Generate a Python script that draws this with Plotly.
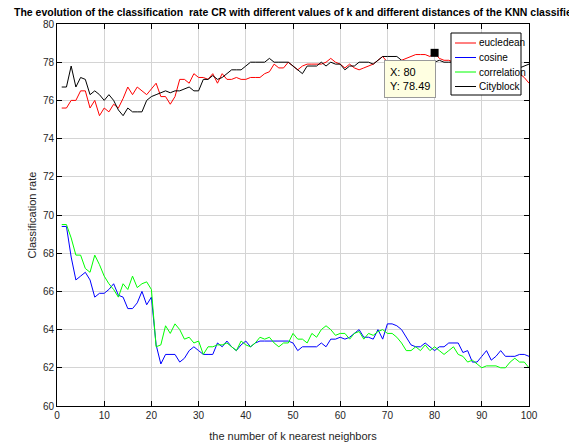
import plotly.graph_objects as go

k = list(range(1, 101))

eucledean = [75.6, 75.6, 76.0, 76.0, 76.5, 76.5, 75.6, 76.0, 75.2, 75.6,
             75.4, 75.8, 75.6, 76.1, 76.7, 76.3, 76.7, 76.5, 76.3, 76.6,
             76.9, 76.2, 76.2, 75.8, 76.2, 77.1, 77.1, 76.9, 77.4, 77.2,
             77.2, 77.1, 77.4, 76.9, 77.4, 77.1, 77.1, 77.2, 77.1, 77.1,
             77.2, 77.2, 77.2, 77.4, 77.5, 77.9, 77.7, 77.7, 78.0, 77.8,
             77.6, 77.8, 77.9, 77.9, 77.9, 77.9, 78.0, 78.2, 78.0, 77.9,
             77.7, 77.9, 77.7, 77.6, 77.7, 77.8, 77.9, 78.1, 78.3, 78.0,
             77.9, 78.0, 78.1, 78.2, 78.3, 78.4, 78.4, 78.4, 78.3, 78.49,
             78.2, 78.1, 78.1, 78.0, 78.1, 77.9, 78.0, 77.8, 77.9, 77.9,
             77.8, 77.7, 77.8, 77.6, 77.7, 77.5, 77.6, 77.4, 77.2, 76.9]

cosine = [69.4, 69.4, 67.8, 66.6, 66.8, 67.0, 66.6, 65.7, 65.9, 65.9,
          66.1, 66.4, 65.8, 65.7, 65.1, 65.1, 65.4, 66.0, 65.3, 65.7,
          63.2, 62.2, 62.7, 62.7, 62.7, 62.3, 62.5, 62.9, 63.1, 62.9,
          62.7, 62.7, 62.7, 63.3, 63.1, 63.4, 63.1, 62.9, 63.2, 63.4,
          63.1, 63.3, 63.4, 63.4, 63.4, 63.4, 63.4, 63.4, 63.4, 63.3,
          62.9, 63.1, 63.1, 63.1, 63.1, 63.3, 63.1, 63.5, 63.5, 63.6,
          63.5, 63.6, 63.8, 64.0, 63.6, 63.6, 63.5, 64.0, 63.5, 64.3,
          64.3, 64.2, 64.0, 63.6, 63.2, 63.1, 63.1, 63.3, 63.1, 62.9,
          63.1, 63.1, 63.3, 63.3, 63.3, 62.8, 62.9, 62.3, 62.3, 62.6,
          62.9, 62.4, 62.6, 62.9, 62.6, 62.6, 62.6, 62.7, 62.7, 62.6]

correlation = [69.5, 69.5, 68.8, 67.9, 67.9, 67.2, 67.0, 67.9, 67.4, 66.8,
               66.4, 66.1, 65.7, 66.4, 66.1, 66.8, 66.2, 66.4, 66.5, 66.1,
               63.1, 63.2, 64.2, 63.8, 64.3, 64.0, 63.5, 63.6, 63.3, 63.4,
               62.7, 63.1, 63.1, 63.2, 63.2, 63.3, 63.1, 62.9, 63.4, 63.2,
               63.1, 63.3, 63.6, 63.5, 63.6, 63.3, 63.1, 63.3, 63.3, 63.8,
               63.5, 63.5, 63.3, 63.8, 63.6, 64.0, 64.2, 64.0, 63.7, 63.8,
               63.8, 63.5, 63.8, 63.9, 63.5, 63.8, 63.7, 63.9, 64.0, 63.8,
               63.8, 63.6, 63.3, 62.9, 62.9, 63.1, 62.9, 63.2, 62.9, 63.1,
               62.9, 62.7, 62.9, 63.1, 62.7, 62.6, 62.3, 62.4, 62.2, 62.0,
               62.1, 62.1, 62.1, 62.0, 62.0, 62.3, 62.5, 62.3, 62.3, 62.0]

cityblock = [76.7, 76.7, 77.8, 76.7, 77.2, 77.1, 76.3, 76.5, 76.3, 76.0,
             76.3, 76.0, 75.5, 75.2, 75.6, 75.4, 75.4, 75.4, 76.0, 76.2,
             76.3, 76.4, 76.5, 76.4, 76.5, 76.5, 76.6, 76.7, 76.5, 76.5,
             77.1, 77.1, 77.3, 77.1, 77.2, 77.4, 77.6, 77.6, 77.6, 77.8,
             78.0, 78.0, 78.0, 78.0, 78.2, 78.0, 78.0, 78.0, 78.0, 77.8,
             77.6, 77.4, 77.8, 77.8, 77.8, 78.0, 77.8, 78.0, 77.9, 77.9,
             77.6, 77.8, 77.8, 78.0, 78.0, 78.0, 77.9, 78.1, 78.3, 78.3,
             78.3, 78.3, 78.1, 78.0, 78.0, 78.0, 78.0, 78.0, 78.0, 78.0,
             78.1, 78.0, 78.0, 78.0, 77.9, 78.0, 77.9, 77.9, 77.8, 77.9,
             77.8, 77.8, 77.9, 77.8, 77.7, 77.8, 77.8, 77.7, 77.8, 77.9]

series_names = ["eucledean", "cosine", "correlation", "Cityblock"]
series_values = [eucledean, cosine, correlation, cityblock]
series_colors = ["#ff0000", "#0000ff", "#00ff00", "#000000"]

x_ticks = list(range(0, 101, 10))
y_ticks = list(range(60, 81, 2))

tip_k = 80
tip_value = eucledean[k.index(tip_k)]

title_text = ("The evolution of the classification  rate CR with different values of k "
              "and different distances of the KNN classifier")

W, H = 569, 443
L, R, T, B = 57, 40, 24, 37
PW, PH = W - L - R, H - T - B


def px_x(px):
    return (px - L) / PW


def px_y(py):
    return 1 - (py - T) / PH


fig = go.Figure()
for name, vals, col in zip(series_names, series_values, series_colors):
    fig.add_trace(go.Scatter(x=k, y=vals, mode="lines", name=name,
                             line=dict(color=col, width=1)))

fig.add_trace(go.Scatter(x=[tip_k], y=[tip_value], mode="markers", showlegend=False,
                         marker=dict(symbol="square", size=8, color="black")))

# data tip
fig.add_annotation(x=tip_k, y=tip_value, xref="x", yref="y",
                   text=f"X: {tip_k}<br>Y: {tip_value:.2f}", showarrow=False,
                   xanchor="right", yanchor="top", xshift=1, yshift=-7,
                   align="left", bgcolor="#ffffe1", bordercolor="#9a9a9a",
                   borderwidth=1, borderpad=5,
                   font=dict(family="Liberation Sans, Arial", size=11, color="black"))

# title (left part visible, overflowing right edge as in the original)
fig.add_annotation(text=f"<b>{title_text}</b>", xref="paper", yref="paper",
                   x=px_x(12), y=px_y(12), xanchor="left", yanchor="middle",
                   showarrow=False,
                   font=dict(family="Liberation Sans, Arial", size=10.5, color="black"))

# legend box (MATLAB style)
lx0, ly0, lx1, ly1 = 451, 33, 521, 95
fig.add_shape(type="rect", xref="paper", yref="paper",
              x0=px_x(lx0), x1=px_x(lx1), y0=px_y(ly1), y1=px_y(ly0),
              line=dict(color="black", width=1), fillcolor="white", layer="above")
row_y = [43, 57.5, 72, 86.5]
for name, col, ry in zip(series_names, series_colors, row_y):
    fig.add_shape(type="line", xref="paper", yref="paper",
                  x0=px_x(455), x1=px_x(476), y0=px_y(ry), y1=px_y(ry),
                  line=dict(color=col, width=1), layer="above")
    fig.add_annotation(text=name, xref="paper", yref="paper",
                       x=px_x(477), y=px_y(ry), xanchor="left", yanchor="middle",
                       showarrow=False,
                       font=dict(family="Liberation Sans, Arial", size=10, color="black"))

axis_common = dict(showgrid=True, gridcolor="#d4d4d4", gridwidth=1,
                   showline=True, linecolor="black", linewidth=1, mirror="ticks",
                   ticks="inside", ticklen=5, tickcolor="black", zeroline=False,
                   automargin=False,
                   tickfont=dict(family="Liberation Sans, Arial", size=10, color="#262626"))

fig.update_layout(
    width=W, height=H,
    margin=dict(l=L, r=R, t=T, b=B, autoexpand=False),
    paper_bgcolor="white", plot_bgcolor="white",
    font=dict(family="Liberation Sans, Arial", color="#262626"),
    xaxis=dict(range=[0, 100], tickvals=x_ticks,
               title=dict(text="the number of k nearest neighbors", standoff=12,
                          font=dict(size=11, color="#262626")),
               **axis_common),
    yaxis=dict(range=[60, 80], tickvals=y_ticks,
               title=dict(text="Classification rate", standoff=4,
                          font=dict(size=11, color="#262626")),
               **axis_common),
    showlegend=False,
)

fig.write_html("out.html", config={"displayModeBar": False},
               post_script="document.body.style.margin='0px';document.body.style.overflow='hidden';")
